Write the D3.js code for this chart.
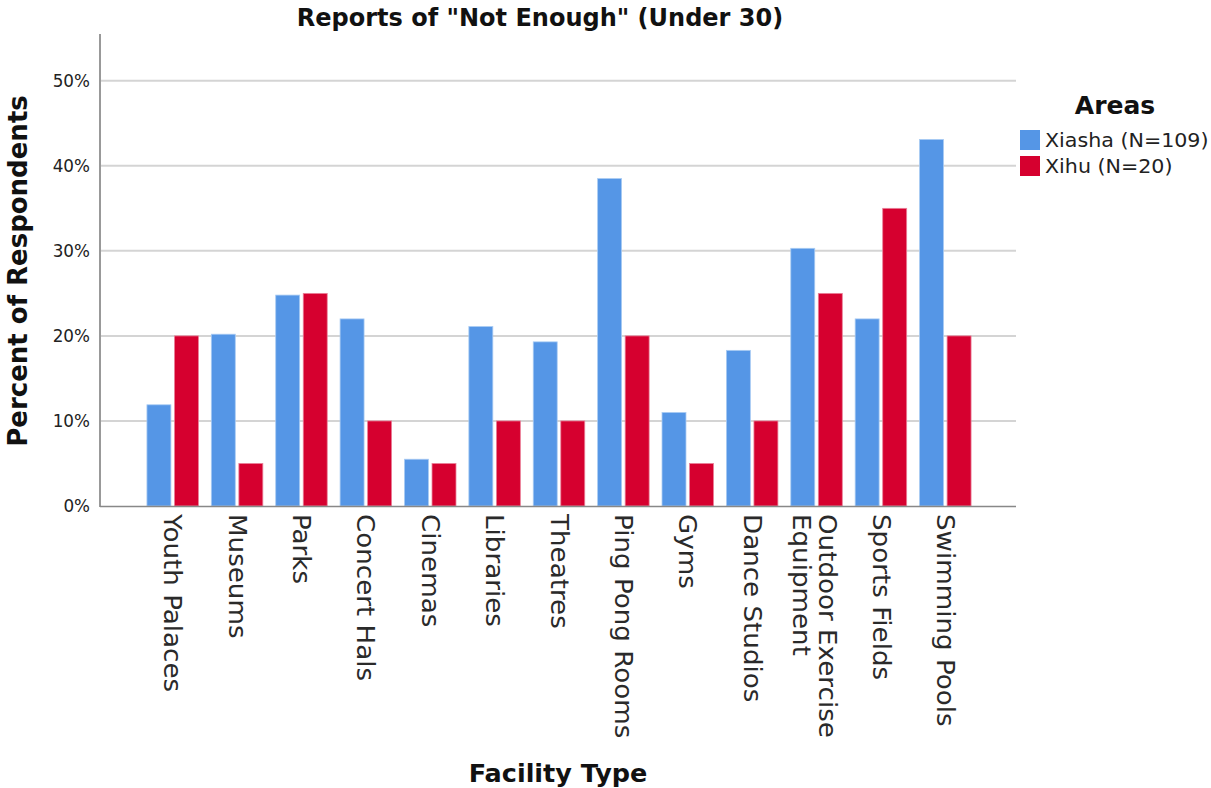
<!DOCTYPE html>
<html><head><meta charset="utf-8">
<script src="https://cdn.jsdelivr.net/npm/d3@7"></script>
<style>body{margin:0;background:#fff}svg{display:block}</style>
</head><body>
<svg id="chart" width="1211" height="788"></svg>
<script>
const categories = ["Youth Palaces","Museums","Parks","Concert Hals","Cinemas","Libraries","Theatres","Ping Pong Rooms","Gyms","Dance Studios","Outdoor Exercise Equipment","Sports Fields","Swimming Pools"];
const seriesNames = ["Xiasha (N=109)","Xihu (N=20)"];
const xiasha = [11.9,20.2,24.8,22.0,5.5,21.1,19.3,38.5,11.0,18.3,30.3,22.0,43.1];
const xihu = [20,5,25,10,5,10,10,20,5,10,25,35,20];
const yTicks = [0,10,20,30,40,50];
const colors = ["#5596e6","#d6002f"];

const svg = d3.select("#chart");
const x0 = d3.scaleBand().domain(categories).range([140.5,977.5]).paddingInner(0.2).paddingOuter(0.1);
const x1 = d3.scaleBand().domain(seriesNames).range([0,x0.bandwidth()]).paddingInner(0.13);
const y = d3.scaleLinear().domain([0,55.5]).range([506,34]);

// gridlines
svg.append("g").selectAll("line").data(yTicks.filter(d=>d>0)).join("line")
  .attr("x1",101).attr("x2",1016).attr("y1",d=>y(d)).attr("y2",d=>y(d))
  .attr("stroke","#d4d4d4").attr("stroke-width",2);

// bars
const data = categories.map((c,i)=>({c, vals:[xiasha[i],xihu[i]]}));
const g = svg.append("g").selectAll("g").data(data).join("g")
  .attr("transform",d=>`translate(${x0(d.c)},0)`);
g.selectAll("rect").data(d=>d.vals.map((v,j)=>({s:seriesNames[j],v,j}))).join("rect")
  .attr("x",d=>x1(d.s)).attr("width",x1.bandwidth())
  .attr("y",d=>y(d.v)).attr("height",d=>y(0)-y(d.v))
  .attr("fill",d=>colors[d.j])
  .attr("stroke",d=>d.j===0?"#a9cbf3":"#ea8099").attr("stroke-width",0.8);

// y axis
const yAxis = d3.axisLeft(y).tickValues(yTicks).tickFormat(d=>d+"%").tickSize(0).tickPadding(10);
const ya = svg.append("g").attr("transform","translate(100,0)").call(yAxis);
ya.select(".domain").remove();
ya.selectAll("text").attr("font-family","DejaVu Sans").attr("font-size",16.8).attr("fill","#222");
svg.append("line").attr("x1",100).attr("x2",100).attr("y1",34).attr("y2",507).attr("stroke","#555").attr("stroke-width",1.2);

// x axis
const xAxis = d3.axisBottom(x0).tickSize(0).tickFormat("");
const xa = svg.append("g").attr("transform","translate(0,506)").call(xAxis);
xa.select(".domain").remove();
svg.append("line").attr("x1",100).attr("x2",1016).attr("y1",506.5).attr("y2",506.5).attr("stroke","#888").attr("stroke-width",1.5);

// x tick labels (rotated)
const wrap = {"Outdoor Exercise Equipment":["Outdoor Exercise","Equipment"]};
categories.forEach(c=>{
  const cx = x0(c)+x0.bandwidth()/2;
  const lines = wrap[c]||[c];
  const n = lines.length;
  lines.forEach((t,k)=>{
    const off = (n===1)?0:(k===0?11:-15);
    svg.append("text").attr("transform",`translate(${cx+off},514) rotate(90) scale(1.09,1)`)
      .attr("dy","0.35em").attr("text-anchor","start")
      .attr("font-family","DejaVu Sans").attr("font-size",24).attr("fill","#2a2a2a")
      .text(t);
  });
});

// title
svg.append("text").attr("x",540).attr("y",26).attr("text-anchor","middle")
  .attr("font-family","DejaVu Sans").attr("font-weight","bold").attr("font-size",24).attr("fill","#111")
  .text('Reports of "Not Enough" (Under 30)');
// y title
svg.append("text").attr("transform","translate(27,271) rotate(-90)").attr("text-anchor","middle")
  .attr("font-family","DejaVu Sans").attr("font-weight","bold").attr("font-size",26).attr("fill","#111")
  .text("Percent of Respondents");
// x title
svg.append("text").attr("x",558).attr("y",782).attr("text-anchor","middle")
  .attr("font-family","DejaVu Sans").attr("font-weight","bold").attr("font-size",25.5).attr("fill","#111")
  .text("Facility Type");

// legend
svg.append("text").attr("x",1115).attr("y",114).attr("text-anchor","middle")
  .attr("font-family","DejaVu Sans").attr("font-weight","bold").attr("font-size",25).attr("fill","#111")
  .text("Areas");
const lg = svg.append("g").selectAll("g").data(seriesNames).join("g")
  .attr("transform",(d,i)=>`translate(1020,${130+i*26})`);
lg.append("rect").attr("width",20).attr("height",20).attr("fill",(d,i)=>colors[i]);
lg.append("text").attr("transform","translate(25,10) scale(1.085,1)").attr("dy","0.35em")
  .attr("font-family","DejaVu Sans").attr("font-size",19).attr("fill","#222").text(d=>d);
</script>
</body></html>
